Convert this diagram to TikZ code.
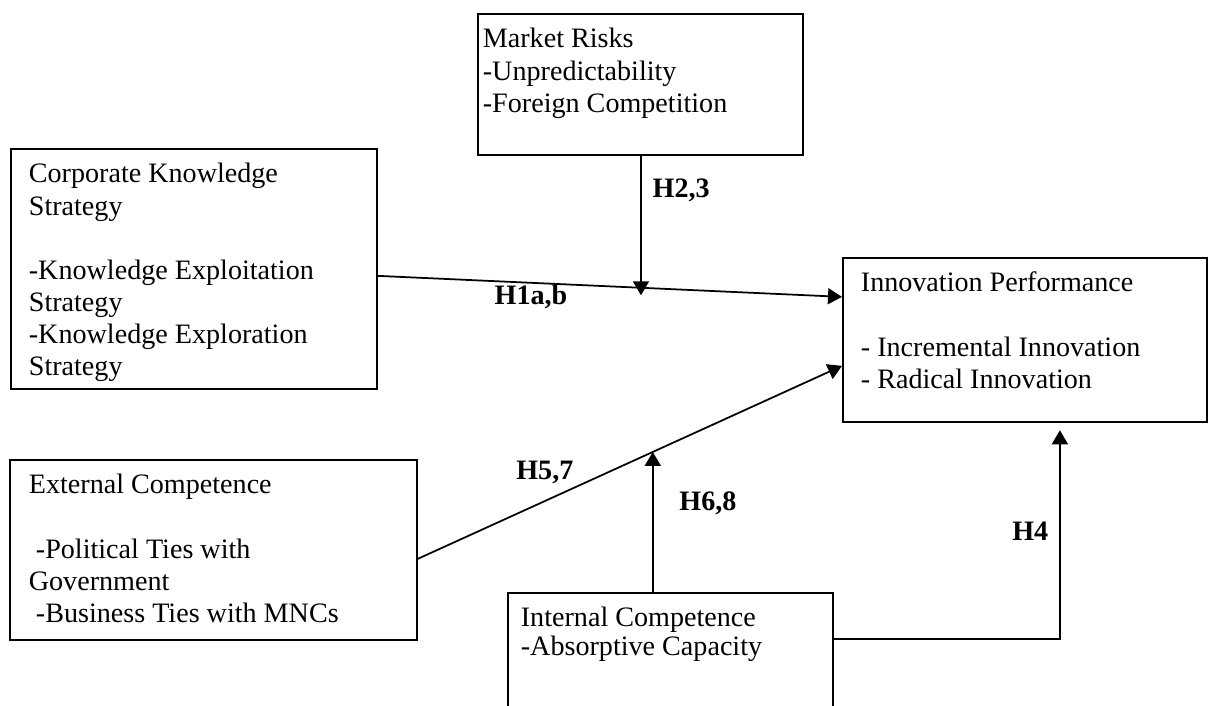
\documentclass[tikz,border=0pt]{standalone}
\usepackage{fontspec}
\setmainfont{Liberation Serif}
\usetikzlibrary{arrows.meta}
\newcommand{\cbody}[3]{\parbox[c][#2][t]{#1}{\raggedright\rule{0pt}{0.68cm}#3}}

\begin{document}
\begin{tikzpicture}[every node/.style={font=\fontsize{16}{18.3}\selectfont},
  construct/.style={draw,line width=1pt,inner ysep=0pt,anchor=north west},
  hyp/.style={font=\fontsize{16}{18.3}\selectfont\bfseries,inner sep=1pt},
  link/.style={line width=1pt,-{Triangle[length=0.28cm,width=0.32cm]}}]
\useasboundingbox (0,0) rectangle (24.16,14.12);
\node[construct,inner xsep=0.1cm] (mkt) at (9.54,13.86) {\cbody{6.3cm}{2.82cm}{Market Risks\\ -Unpredictability\\ -Foreign Competition}};
\node[construct,inner xsep=0.36cm] (cks) at (0.2,11.16) {\cbody{6.6cm}{4.8cm}{Corporate Knowledge\\ Strategy\\[18.3pt] -Knowledge Exploitation\\ Strategy\\ -Knowledge Exploration\\ Strategy}};
\node[construct,inner xsep=0.36cm] (inn) at (16.84,8.98) {\cbody{6.56cm}{3.28cm}{Innovation Performance\\[18.3pt] - Incremental Innovation\\ - Radical Innovation}};
\node[construct,inner xsep=0.38cm] (ext) at (0.18,4.94) {\cbody{7.38cm}{3.6cm}{External Competence\\[18.3pt] \ -Political Ties with\\ Government\\ \ -Business Ties with MNCs}};
\node[construct,inner xsep=0.26cm,font=\fontsize{16}{16.2}\selectfont] (int) at (10.14,2.28) {\cbody{5.98cm}{2.6cm}{Internal Competence\\ -Absorptive Capacity}};
\draw[link] ([yshift=-0.14cm]cks.east) -- ([yshift=0.86cm]inn.west) coordinate[pos=0.567] (m1) node[hyp,pos=0.33,below] {H1a,b};
\draw[link,shorten >=-0.15cm] (mkt.south -| m1) -- (m1) node[hyp,pos=0.26,right=0.18cm] {H2,3};
\draw[link] ([yshift=-0.18cm]ext.east) -- ([yshift=-0.52cm]inn.west) coordinate[pos=0.554] (m2) node[hyp,pos=0.373,anchor=south east] {H5,7};
\draw[link] (int.north -| m2) -- (m2) node[hyp,pos=0.63,right=0.48cm] {H6,8};
\draw[link,shorten >=0.15cm] ([yshift=-0.94cm]int.north east) -| ([xshift=0.7cm]inn.south) node[hyp,pos=0.75,left=0.18cm] {H4};
\end{tikzpicture}
\end{document}
